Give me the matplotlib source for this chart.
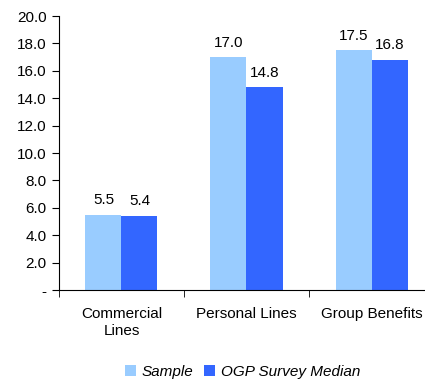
import matplotlib.pyplot as plt
import numpy as np

plt.rcParams['font.family'] = ['Liberation Sans', 'DejaVu Sans']

categories = ['Commercial\nLines', 'Personal Lines', 'Group Benefits']
sample = [5.5, 17.0, 17.5]
median = [5.4, 14.8, 16.8]
yticks = [0, 2, 4, 6, 8, 10, 12, 14, 16, 18, 20]
ylabels = ['-'] + ['%.1f' % v for v in yticks[1:]]

fig = plt.figure(figsize=(4.25, 3.81), dpi=100)
ax = fig.add_axes([0.1388, 0.2388, 0.8824, 0.7192])

x = np.arange(len(categories))
w = 0.288
b1 = ax.bar(x - w / 2, sample, w, color='#99CCFF', label='Sample')
b2 = ax.bar(x + w / 2, median, w, color='#3366FF', label='OGP Survey Median')

for bars, vals in ((b1, sample), (b2, median)):
    for r, v in zip(bars, vals):
        ax.text(r.get_x() + r.get_width() / 2, v + 0.55, '%.1f' % v,
                ha='center', va='bottom', fontsize=11)

ax.set_xlim(-0.5, 2.5)
ax.set_ylim(0, 20)
ax.set_yticks(yticks)
ax.set_yticklabels(ylabels, fontsize=11)
ax.set_xticks(x)
ax.set_xticklabels(categories, fontsize=11, linespacing=1.3)
ax.tick_params(axis='x', length=0, pad=12)
ax.set_xticks([-0.5, 0.5, 1.5, 2.5], minor=True)
ax.tick_params(axis='x', which='minor', length=5, direction='out')
ax.tick_params(axis='y', length=5, direction='out', pad=4)

for s in ('top', 'right'):
    ax.spines[s].set_visible(False)

leg = fig.legend(handles=[b1, b2], loc='lower center', ncol=2, frameon=False,
                 bbox_to_anchor=(0.57, -0.03), handlelength=0.75, handleheight=0.75,
                 handletextpad=0.35, columnspacing=0.7,
                 prop={'style': 'italic', 'size': 11})

fig.savefig('out.png')
